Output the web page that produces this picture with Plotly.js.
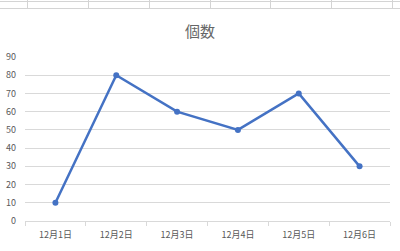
<!DOCTYPE html>
<html>
<head>
<meta charset="utf-8">
<script src="https://cdn.plot.ly/plotly-3.0.1.min.js"></script>
<style>
html,body{margin:0;padding:0;background:#fff;}
#wrap{position:relative;width:400px;height:251px;overflow:hidden;}
#sheet{position:absolute;left:0;top:0;width:400px;height:9px;}
#chart{position:absolute;left:0;top:0;width:400px;height:251px;}
.h{position:absolute;left:0;width:400px;height:1px;background:#d4d4d4;}
.v{position:absolute;top:0;width:1px;height:9px;background:#d4d4d4;}
</style>
</head>
<body>
<div id="wrap">
<div id="chart"></div>
<div id="sheet">
  <div class="h" style="top:1px"></div>
  <div class="h" style="top:8px"></div>
  <div class="v" style="left:27px"></div>
  <div class="v" style="left:88px"></div>
  <div class="v" style="left:149px"></div>
  <div class="v" style="left:210px"></div>
  <div class="v" style="left:270px"></div>
  <div class="v" style="left:331px"></div>
  <div class="v" style="left:392px"></div>
</div>
</div>
<script>
const categories = ["12月1日","12月2日","12月3日","12月4日","12月5日","12月6日"];
const counts = [10, 80, 60, 50, 70, 30];
const yTicks = [0,10,20,30,40,50,60,70,80,90];
const chartTitle = "個数";

const font = "'Noto Sans CJK JP', 'Noto Sans', sans-serif";
Plotly.newPlot("chart", [{
  type: "scatter",
  mode: "lines+markers",
  x: categories,
  y: counts,
  line: {color: "#4472C4", width: 2.5},
  marker: {color: "#4472C4", size: 6},
  hoverinfo: "skip"
}], {
  width: 400, height: 251,
  margin: {l: 25, r: 10, t: 57, b: 30},
  paper_bgcolor: "rgba(0,0,0,0)",
  plot_bgcolor: "#fff",
  showlegend: false,
  title: {text: chartTitle, x: 0.5, xanchor: "center", y: 0.875, yanchor: "middle",
          font: {family: font, size: 15, color: "#666666"}},
  xaxis: {
    type: "category", range: [-0.5, 5.5],
    showgrid: false, showline: true, linecolor: "#d9d9d9", linewidth: 1,
    tickson: "boundaries", ticks: "outside", ticklen: 4, tickcolor: "#d9d9d9",
    ticklabelstandoff: 5,
    tickfont: {family: font, size: 9, color: "#595959"},
    fixedrange: true
  },
  yaxis: {
    range: [0, 90], tickvals: yTicks,
    showgrid: true, gridcolor: "#d9d9d9", gridwidth: 1,
    zeroline: false, showline: false, ticks: "",
    ticklabelstandoff: 8,
    tickfont: {family: font, size: 9, color: "#595959"},
    fixedrange: true
  }
}, {staticPlot: true, displayModeBar: false});
</script>
</body>
</html>
